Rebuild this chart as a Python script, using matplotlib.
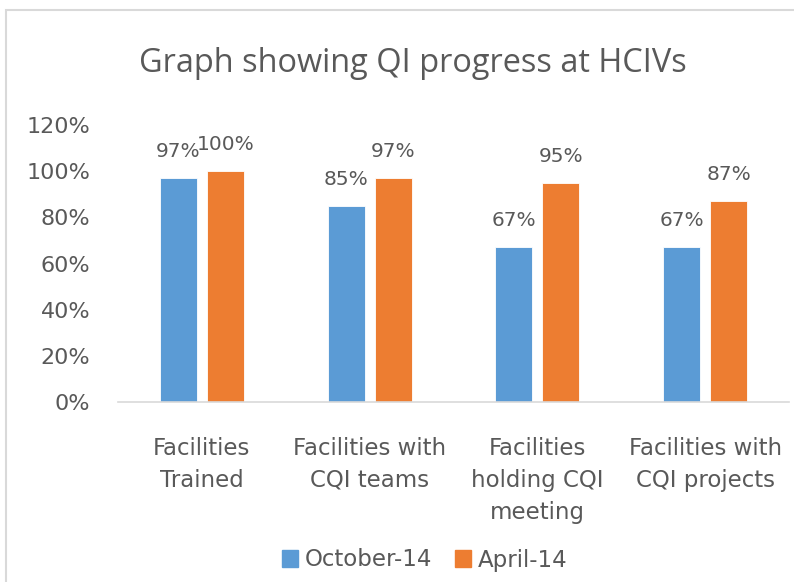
import matplotlib.pyplot as plt
import numpy as np
from matplotlib.patches import Rectangle, Patch
from matplotlib.ticker import PercentFormatter

categories = ['Facilities\nTrained', 'Facilities with\nCQI teams',
              'Facilities\nholding CQI\nmeeting', 'Facilities with\nCQI projects']
october_14 = [0.97, 0.85, 0.67, 0.67]
april_14 = [1.00, 0.97, 0.95, 0.87]
series_names = ['October-14', 'April-14']

BLUE = '#5B9BD5'
ORANGE = '#ED7D31'
TEXT = '#595959'

fig = plt.figure(figsize=(7.94, 5.82), dpi=100)
ax = fig.add_axes([118 / 794, 1 - 402 / 582, 671 / 794, 277 / 582])

# light grey chart frame (only top/left visible in the original crop)
fig.patches.append(Rectangle((6 / 794, -0.1), 1.2, 1 - 10 / 582 + 0.1,
                             transform=fig.transFigure, fill=False,
                             edgecolor='#D9D9D9', linewidth=1.5))

x = np.arange(len(categories))
w = 0.221
off = 0.14
b1 = ax.bar(x - off, october_14, w, color=BLUE, edgecolor='white', linewidth=0.6)
b2 = ax.bar(x + off, april_14, w, color=ORANGE, edgecolor='white', linewidth=0.6)

for bars in (b1, b2):
    for rect in bars:
        h = rect.get_height()
        ax.annotate(f'{h * 100:.0f}%', (rect.get_x() + rect.get_width() / 2, h),
                    xytext=(0, 19), textcoords='offset points',
                    ha='center', va='center', fontsize=14.5, color=TEXT)

ax.set_xlim(-0.5, len(categories) - 0.5)
ax.set_ylim(0, 1.2)
ax.set_yticks(np.arange(0, 1.21, 0.2))
ax.yaxis.set_major_formatter(PercentFormatter(1.0, decimals=0))
ax.tick_params(axis='y', length=0, pad=20, labelsize=16, labelcolor=TEXT)
ax.set_xticks(x)
ax.set_xticklabels(categories, fontsize=16.5, color=TEXT,
                   linespacing=1.5, va='top')
ax.tick_params(axis='x', length=0, pad=25)

for s in ['top', 'right', 'left']:
    ax.spines[s].set_visible(False)
ax.spines['bottom'].set_color('#D9D9D9')
ax.spines['bottom'].set_linewidth(1.2)

fig.text(413 / 794, 1 - 72 / 582, 'Graph showing QI progress at HCIVs',
         ha='center', va='baseline', fontsize=23.4, color=TEXT, family='Open Sans')

handles = [Patch(color=BLUE), Patch(color=ORANGE)]
fig.legend(handles, series_names, loc='center', bbox_to_anchor=(425 / 794, 1 - 560 / 582),
           ncol=2, frameon=False, handlelength=0.7, handleheight=0.7,
           handletextpad=0.3, columnspacing=1.0,
           prop={'size': 16.5}, labelcolor=TEXT)

fig.savefig('out.png', dpi=100)
